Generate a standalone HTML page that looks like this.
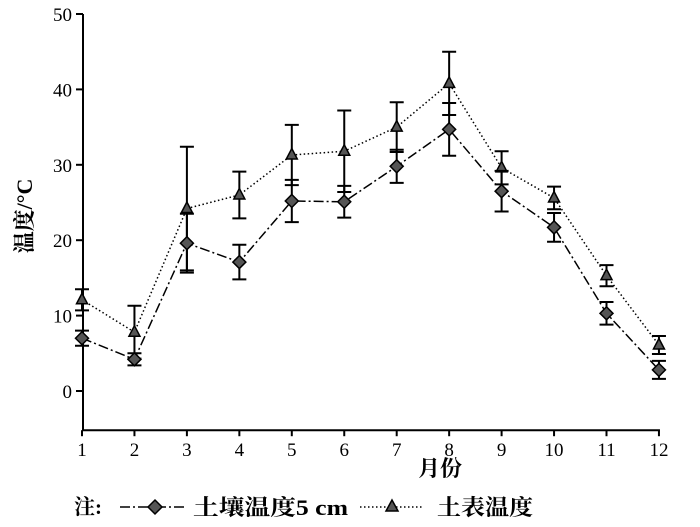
<!DOCTYPE html>
<html><head><meta charset="utf-8"><style>
body{margin:0;background:#fff}
svg text{font-family:"Liberation Serif","Noto Serif CJK SC",serif;fill:#000}
</style></head><body>
<svg width="700" height="522" id="c">
<text x="32" y="216" transform="rotate(-90 32 216)" text-anchor="middle" font-size="22" font-weight="bold">温度/°C</text>
<text x="440" y="476" text-anchor="middle" font-size="22" font-weight="bold">月份</text>
<g>
<text x="74" y="514" font-size="21" font-weight="bold" textLength="28">注:</text>
<line x1="120" y1="507" x2="185" y2="507" stroke="#000" stroke-width="1.5" stroke-dasharray="10,3,2,3"/>
<path d="M155 500 L162 507 L155 514 L148 507Z" fill="#555" stroke="#000" stroke-width="1.5"/>
<text x="193" y="515" font-size="22" font-weight="bold" textLength="155" lengthAdjust="spacingAndGlyphs">土壤温度5 cm</text>
<line x1="360" y1="507" x2="424" y2="507" stroke="#000" stroke-width="1.5" stroke-dasharray="1.5,2.5"/>
<path d="M392 500 L398 511 L386 511Z" fill="#555" stroke="#000" stroke-width="1.5"/>
<text x="437" y="515" font-size="22" font-weight="bold" textLength="96" lengthAdjust="spacingAndGlyphs">土表温度</text>
</g>
</svg>
<script>
const months=[1,2,3,4,5,6,7,8,9,10,11,12];
const soil=[7.0,4.2,19.6,17.1,25.2,25.1,29.8,34.7,26.5,21.7,10.3,2.8];
const soilErr=[1.0,0.8,3.9,2.3,2.8,2.1,2.2,3.5,2.7,1.9,1.5,1.2];
const surface=[12.1,7.8,24.2,26.0,31.3,31.8,35.0,40.8,29.6,25.6,15.3,6.1];
const surfaceErr=[1.4,3.5,8.2,3.1,4.0,5.4,3.3,4.2,2.2,1.5,1.4,1.2];
const yTicks=[0,10,20,30,40,50];
const svg=document.getElementById('c');const NS='http://www.w3.org/2000/svg';
const X=m=>82+(m-1)*52.45;
const Y=v=>391-v*7.54;
function mk(t,a,p){const e=document.createElementNS(NS,t);for(const k in a)e.setAttribute(k,a[k]);(p||svg).appendChild(e);return e;}
const ax=mk('g',{});


mk('line',{x1:83,y1:Y(50),x2:83,y2:Y(-5.2),stroke:'#000','stroke-width':2},ax);
mk('line',{x1:82,y1:Y(-5.2),x2:X(12)+1,y2:Y(-5.2),stroke:'#000','stroke-width':2},ax);
yTicks.forEach(v=>{mk('line',{x1:76,y1:Y(v),x2:83,y2:Y(v),stroke:'#000','stroke-width':2},ax);
const t=mk('text',{x:72,y:Y(v)+7,'text-anchor':'end','font-size':19},ax);t.textContent=v;

});
months.forEach(m=>{mk('line',{x1:X(m),y1:Y(-5.2),x2:X(m),y2:Y(-5.2)+6,stroke:'#000','stroke-width':2},ax);
const t=mk('text',{x:X(m),y:456,'text-anchor':'middle','font-size':19},ax);t.textContent=m;

});
function series(vals,errs,dash,shape,name){
const g=mk('g',{});


mk('polyline',{points:vals.map((v,i)=>X(months[i])+','+Y(v)).join(' '),fill:'none',stroke:'#000','stroke-width':1.5,'stroke-dasharray':dash},g);
vals.forEach((v,i)=>{const x=X(months[i]),t=Y(v+errs[i]),b=Y(v-errs[i]);
const e=mk('path',{d:`M${x} ${t}V${b}M${x-7} ${t}H${x+7}M${x-7} ${b}H${x+7}`,stroke:'#000','stroke-width':2,fill:'none'},g);

});
vals.forEach((v,i)=>{const x=X(months[i]),y=Y(v);
const d=shape==='d'?`M${x} ${y-6.5}L${x+6.5} ${y}L${x} ${y+6.5}L${x-6.5} ${y}Z`:`M${x} ${y-6.5}L${x+5.5} ${y+4}L${x-5.5} ${y+4}Z`;
const p=mk('path',{d,fill:'#555',stroke:'#000','stroke-width':1.5},g);

});}
series(surface,surfaceErr,'1.5,2.5','t','surface-series');
series(soil,soilErr,'10,3,2,3','d','soil-series');
</script>
</body></html>
